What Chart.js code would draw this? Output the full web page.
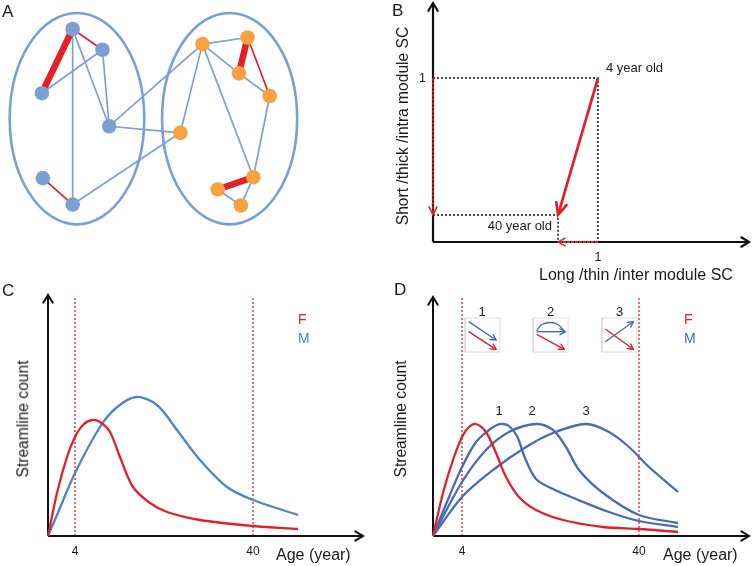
<!DOCTYPE html>
<html><head><meta charset="utf-8">
<script src="https://cdn.jsdelivr.net/npm/chart.js@4"></script>
<style>
html,body{margin:0;padding:0;background:#fff;}
#wrap{position:relative;width:753px;height:566px;overflow:hidden;background:#fff;}
canvas{position:absolute;}
.lbl{position:absolute;white-space:nowrap;font-family:'Liberation Sans',Arial,sans-serif;color:#1a1a1a;}
</style></head>
<body><div id="wrap">
<canvas id="cA" width="376" height="260" style="left:0;top:0"></canvas>
<canvas id="cB" width="377" height="280" style="left:376px;top:0"></canvas>
<canvas id="cC" width="376" height="286" style="left:0;top:280px"></canvas>
<canvas id="cD" width="377" height="286" style="left:376px;top:280px"></canvas>
</div>
<script>
// ---------- DATA ----------
// Panel A: network nodes (position units) and edges
const blueNodes = [[68,23],[99,45],[36,91],[106,126],[37,181],[68,209]];
const orangeNodes = [[203,39],[250,32],[241,70],[273,94],[180,133],[256,180],[219,193],[243,210]];
// edges: [from, to, kind] kind: 'b' blue thin, 'r' red thin, 'R' red thick
const edges = [
  ['b0','b2','R'],['b0','b1','r'],['b0','b5','b'],['b0','b3','b'],['b1','b2','b'],['b1','b3','b'],
  ['b3','o0','b'],['b3','o4','b'],['b4','b5','r'],['b5','o4','b'],
  ['o0','o1','b'],['o0','o2','b'],['o0','o4','b'],['o0','o5','b'],['o1','o2','R'],['o1','o3','r'],
  ['o2','o3','b'],['o3','o5','b'],['o5','o6','R'],['o6','o7','b'],['o5','o7','b']
];
const modules = [[72.5,118,70,112],[231.3,118,70.3,112]]; // cx, cy, rx, ry

// Panel B: normalised SC values
const scAge4 = [1, 1];          // [long/inter, short/intra] at 4 years
const scAge40 = [0.758, 0.165]; // at 40 years
const bAxisEnd = [1.915, 1.457];
const bTicks = [1];

// Panel C: age position (schematic units) and streamline count
const cTicks = [[27,'4'],[205,'40']];
const cAxisEnd = [315, 241];
const cRedX = [0, 9, 19, 27, 35, 44, 52, 62, 72, 85, 102, 119, 152, 205, 250];
const cRedY = [0, 43, 79, 99, 111, 116, 114, 104, 79, 49, 33, 24, 16, 10, 7];
const cBlueX = [0, 9, 27, 52, 68, 88, 109, 129, 152, 179, 205, 250];
const cBlueY = [0, 21, 63, 109, 128, 139, 131, 106, 76, 49, 36, 21];

// Panel D
const dTicks = [[29,'4'],[206,'40']];
const dAxisEnd = [316, 239];
const dRedX = [0, 10, 20, 29, 36, 43, 53, 63, 73, 86, 103, 130, 170, 206, 245];
const dRedY = [0, 43, 76, 99, 109, 112, 104, 83, 59, 39, 26, 16, 9, 7, 4];
const dBlue1X = [0, 16, 29, 43, 56, 64, 70, 76, 84, 92, 103, 120, 143, 176, 206, 245];
const dBlue1Y = [0, 39, 69, 94, 106, 111, 112, 110, 100, 78, 57, 47, 37, 24, 15, 9];
const dBlue2X = [0, 29, 53, 76, 103, 120, 133, 146, 170, 206, 245];
const dBlue2Y = [0, 54, 86, 104, 112, 106, 89, 66, 43, 21, 13];
const dBlue3X = [0, 29, 60, 93, 120, 153, 176, 196, 216, 245];
const dBlue3Y = [0, 39, 66, 89, 103, 112, 104, 89, 69, 44];
// icon legend boxes [x0,x1,y0,y1] and arrows
const iconBoxes = [[32,67,184,218],[100,135,184,218],[169,204,184,218]];
const iconBlueArrows = [[[35.7,214.3],[63,196]], [[103.7,204.3],[132.3,204.3]], [[172.3,194.3],[200.3,214.3]]];
const iconRedArrows = [[[35.7,204.3],[63,186.7]], [[103.7,201.7],[131.3,186.7]], [[172.3,207],[200.3,186.7]]];
const iconArc = [[103.7,205.3],[109,211.5],[117,213.5],[125,211.5],[131.3,205]];

// ---------- STYLE ----------
const RED = '#e32028', NBLUE = '#7d9fd1', NORANGE = '#f9a13e', CBLUE = '#4d86c4', DBLUE = '#4a6bb2', BLACK = '#111';
const CURVE_TENSION = 0.32;

const arrowPlugin = {
  id: 'arrowHeads',
  afterDatasetDraw(chart, args) {
    const ds = chart.data.datasets[args.index];
    if (!ds.arrow) return;
    const pts = args.meta.data, n = pts.length;
    const p1 = pts[n-2], p2 = pts[n-1];
    const ang = Math.atan2(p2.y - p1.y, p2.x - p1.x);
    const L = ds.arrowSize || 8, W = ds.arrowHalf || 0.5;
    const ctx = chart.ctx;
    ctx.save();
    ctx.setLineDash([]);
    ctx.strokeStyle = ds.borderColor; ctx.fillStyle = ds.borderColor;
    ctx.lineWidth = ds.arrowLW || ds.borderWidth;
    ctx.lineCap = 'round'; ctx.lineJoin = 'miter';
    const x1 = p2.x + L*Math.cos(ang + Math.PI - W), y1 = p2.y + L*Math.sin(ang + Math.PI - W);
    const x2 = p2.x + L*Math.cos(ang + Math.PI + W), y2 = p2.y + L*Math.sin(ang + Math.PI + W);
    ctx.beginPath(); ctx.moveTo(x1,y1); ctx.lineTo(p2.x,p2.y); ctx.lineTo(x2,y2);
    if (ds.arrow === 'filled') { ctx.closePath(); ctx.fill(); } else ctx.stroke();
    ctx.restore();
  }
};
const ellipsePlugin = {
  id: 'modules',
  beforeDatasetsDraw(chart, args, opts) {
    if (!opts.list) return;
    const ctx = chart.ctx, sx = chart.scales.x, sy = chart.scales.y;
    ctx.save(); ctx.strokeStyle = opts.color; ctx.lineWidth = opts.width;
    opts.list.forEach(([cx,cy,rx,ry]) => {
      const px = sx.getPixelForValue(cx), py = sy.getPixelForValue(cy);
      const prx = Math.abs(sx.getPixelForValue(cx+rx) - px), pry = Math.abs(sy.getPixelForValue(cy+ry) - py);
      ctx.beginPath(); ctx.ellipse(px, py, prx, pry, 0, 0, Math.PI*2); ctx.stroke();
    });
    ctx.restore();
  }
};
Chart.register(arrowPlugin, ellipsePlugin);

function pts(arr){ return arr.map(([x,y]) => ({x, y})); }
function xy(xs, ys){ return xs.map((x,i) => ({x, y: ys[i]})); }
function line(data, color, width, extra){
  return Object.assign({data, showLine:true, borderColor:color, backgroundColor:color, borderWidth:width,
    pointRadius:0, pointHoverRadius:0, fill:false, tension:0}, extra||{});
}
function makeChart(id, datasets, xr, yr, pluginOpts){
  return new Chart(document.getElementById(id), {
    type:'scatter',
    data:{datasets},
    options:{
      responsive:false, animation:false, events:[], devicePixelRatio:1,
      layout:{padding:0},
      scales:{
        x:{type:'linear', min:xr[0], max:xr[1], display:false},
        y:{type:'linear', min:yr[0], max:yr[1], display:false, reverse: !!yr[2]}
      },
      plugins: Object.assign({legend:{display:false}, tooltip:{enabled:false}}, pluginOpts||{})
    }
  });
}

// ---------- PANEL A ----------
const nodeMap = {};
blueNodes.forEach((p,i) => nodeMap['b'+i] = p);
orangeNodes.forEach((p,i) => nodeMap['o'+i] = p);
const dsA = [];
dsA.push({data: pts(blueNodes), pointRadius:7.3, pointBackgroundColor:NBLUE, pointBorderWidth:0, showLine:false, order:0});
dsA.push({data: pts(orangeNodes), pointRadius:7.3, pointBackgroundColor:NORANGE, pointBorderWidth:0, showLine:false, order:0});
edges.forEach(([a,b,k]) => {
  const c = k === 'b' ? NBLUE : RED;
  const w = k === 'R' ? 6.5 : 1.7;
  dsA.push(line(pts([nodeMap[a], nodeMap[b]]), c, w, {order: k==='b'?3:2}));
});
makeChart('cA', dsA, [0,376], [0,260,true], {modules:{list:modules, color:'#7a9fd4', width:2.6}});

// ---------- PANEL B ----------
const dsB = [
  line(pts([[scAge4[0],scAge4[1]],[scAge40[0],scAge40[1]]]), RED, 2.7, {arrow:'open', arrowSize:13, arrowHalf:0.42, arrowLW:2.7, order:0}),
  line(pts([[0,scAge4[1]],[0,scAge40[1]]]), RED, 1.6, {borderDash:[3,1], arrow:'open', arrowSize:9, arrowHalf:0.45, arrowLW:1.5, order:1}),
  line(pts([[scAge4[0],0],[scAge40[0],0]]), RED, 2, {borderDash:[3,1], arrow:'open', arrowSize:8, arrowHalf:0.5, arrowLW:1.5, order:1}),
  line(pts([[0,0],[bAxisEnd[0],0]]), BLACK, 2.2, {arrow:'open', arrowSize:9, arrowHalf:0.55, order:3}),
  line(pts([[0,0],[0,bAxisEnd[1]]]), BLACK, 2.2, {arrow:'open', arrowSize:9, arrowHalf:0.55, order:3}),
  line(pts([[0,scAge4[1]],[scAge4[0],scAge4[1]],[scAge4[0],0]]), BLACK, 1.5, {borderDash:[2,2], order:2}),
  line(pts([[0,scAge40[1]],[scAge40[0],scAge40[1]],[scAge40[0],0]]), BLACK, 1.5, {borderDash:[2,2], order:2})
];
const chB = makeChart('cB', dsB, [-0.34545,1.93939], [-0.23171,1.47561]);

// ---------- PANEL C ----------
const dsC = [
  line(xy(cRedX,cRedY), RED, 2.3, {tension:CURVE_TENSION, order:0}),
  line(xy(cBlueX,cBlueY), CBLUE, 2.3, {tension:CURVE_TENSION, order:1}),
  line(pts([[0,0],[cAxisEnd[0],0]]), BLACK, 2, {arrow:'open', arrowSize:9, arrowHalf:0.55, order:2}),
  line(pts([[0,0],[0,cAxisEnd[1]]]), BLACK, 2, {arrow:'open', arrowSize:9, arrowHalf:0.55, order:2})
];
cTicks.forEach(([p]) => dsC.push(line(pts([[p,0],[p,cAxisEnd[1]-2]]), RED, 1.3, {borderDash:[2,2], order:3})));
const chC = makeChart('cC', dsC, [-48,328], [-30,256]);

// ---------- PANEL D ----------
const dsD = [
  line(xy(dRedX,dRedY), RED, 2.3, {tension:CURVE_TENSION, order:0}),
  line(xy(dBlue1X,dBlue1Y), DBLUE, 2.3, {tension:CURVE_TENSION, order:1}),
  line(xy(dBlue2X,dBlue2Y), DBLUE, 2.3, {tension:CURVE_TENSION, order:1}),
  line(xy(dBlue3X,dBlue3Y), DBLUE, 2.3, {tension:CURVE_TENSION, order:1}),
  line(pts([[0,0],[dAxisEnd[0],0]]), BLACK, 2, {arrow:'open', arrowSize:9, arrowHalf:0.55, order:2}),
  line(pts([[0,0],[0,dAxisEnd[1]]]), BLACK, 2, {arrow:'open', arrowSize:9, arrowHalf:0.55, order:2})
];
dTicks.forEach(([p]) => dsD.push(line(pts([[p,0],[p,dAxisEnd[1]]]), RED, 1.3, {borderDash:[2,2], order:3})));
iconBoxes.forEach(([x0,x1,y0,y1]) => dsD.push(line(pts([[x0,y0],[x1,y0],[x1,y1],[x0,y1],[x0,y0]]), '#dcdcdc', 1, {order:5})));
iconBlueArrows.forEach(a => dsD.push(line(pts(a), DBLUE, 1.4, {arrow:'open', arrowSize:6, arrowHalf:0.5, order:4})));
iconRedArrows.forEach(a => dsD.push(line(pts(a), RED, 1.4, {arrow:'open', arrowSize:6, arrowHalf:0.5, order:4})));
dsD.push(line(pts(iconArc), DBLUE, 1.4, {tension:0.4, order:4}));
const chD = makeChart('cD', dsD, [-57,320], [-30,256]);

// ---------- TEXT ----------
const wrap = document.getElementById('wrap');
function label(t, x, y, s, align, color, rot, weight){
  const d = document.createElement('div');
  d.className = 'lbl'; d.textContent = t;
  d.style.fontSize = s + 'px'; d.style.lineHeight = s + 'px';
  if (color) d.style.color = color;
  if (weight) d.style.fontWeight = weight;
  if (rot) {
    d.style.left = x + 'px'; d.style.top = y + 'px';
    d.style.transform = 'translate(-50%,-50%) rotate(-90deg)';
  } else {
    d.style.left = x + 'px'; d.style.top = (y - 0.85*s) + 'px';
    if (align === 'center') d.style.transform = 'translateX(-50%)';
    if (align === 'right') d.style.transform = 'translateX(-100%)';
  }
  wrap.appendChild(d);
}
function tickLabel(chart, left, top, axis, value, text, s, off){
  const sc = chart.scales[axis];
  const p = sc.getPixelForValue(value);
  if (axis === 'x') label(text, left + p, top + off, s, 'center');
  else label(text, left + off, top + p + 0.36*s, s, 'right');
}
label('A', 2, 17, 17);
label('B', 392, 16, 17);
label('C', 2, 296, 17);
label('D', 394, 295, 17);
// B
bTicks.forEach(v => { tickLabel(chB, 376, 0, 'x', v, String(v), 12.5, 262); tickLabel(chB, 376, 0, 'y', v, String(v), 12.5, 426-376); });
label('4 year old', 606, 72.5, 13);
label('40 year old', 552, 230, 13, 'right');
label('Long /thin /inter module SC', 539, 281, 16);
label('Short /thick /intra module SC', 402.5, 126, 15.6, null, null, true);
// C
cTicks.forEach(([p,t]) => tickLabel(chC, 0, 280, 'x', p, t, 12, 555.5 - 280));
label('Age (year)', 276, 561, 16);
label('Streamline count', 23, 418.5, 15.6, null, null, true);
label('F', 298, 324, 14, null, RED);
label('M', 298, 343, 14, null, CBLUE);
// D
dTicks.forEach(([p,t]) => tickLabel(chD, 376, 280, 'x', p, t, 12, 555.5 - 280));
label('Age (year)', 663, 561, 16);
label('Streamline count', 401, 418.5, 15.6, null, null, true);
label('F', 684, 324, 14, null, RED);
label('M', 684, 343, 14, null, DBLUE);
label('1', 499, 415, 13, 'center');
label('2', 532, 415, 13, 'center');
label('3', 586, 415, 13, 'center');
label('1', 482, 316, 13, 'center');
label('2', 550.5, 316, 13, 'center');
label('3', 619.5, 316, 13, 'center');
</script>
</body></html>
